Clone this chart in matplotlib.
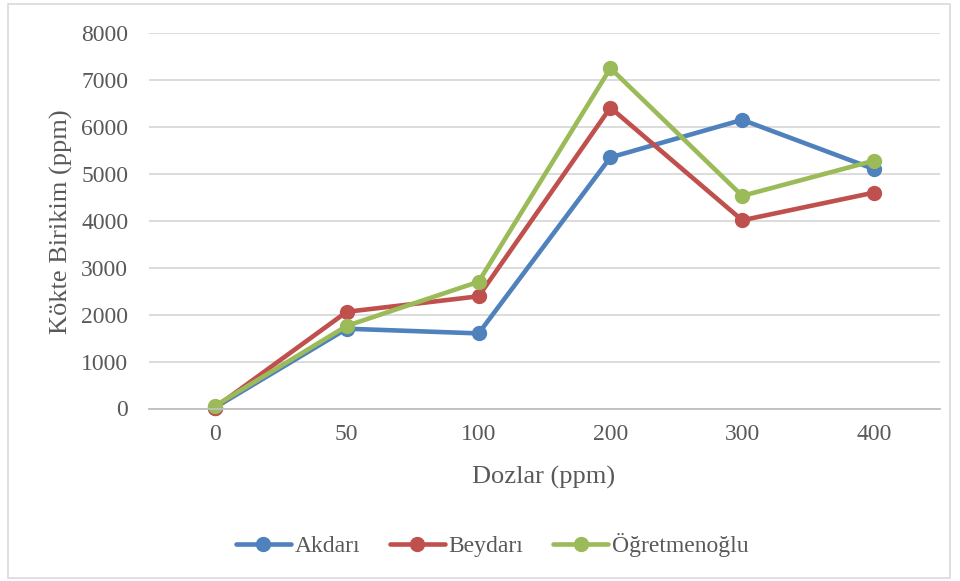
import numpy as np
import matplotlib.pyplot as plt
from matplotlib.patches import Rectangle

plt.rcParams['font.family'] = ['Liberation Serif', 'DejaVu Serif']

dozlar = ['0', '50', '100', '200', '300', '400']
akdari = [20, 1700, 1600, 5350, 6150, 5100]
beydari = [20, 2060, 2390, 6410, 4010, 4600]
ogretmenoglu = [55, 1760, 2700, 7250, 4530, 5280]

series = [('Akdarı', akdari, '#4F81BD'),
          ('Beydarı', beydari, '#C0504D'),
          ('Öğretmenoğlu', ogretmenoglu, '#9BBB59')]

text_col = '#595959'

fig = plt.figure(figsize=(9.6, 5.81), dpi=100)
ax = fig.add_axes([149/960, 1 - 408.5/581, (940 - 149)/960, (408.5 - 33)/581])

x = np.arange(len(dozlar))
for name, vals, col in series:
    ax.plot(x, vals, color=col, lw=3.3, marker='o', markersize=10,
            label=name, solid_capstyle='round', clip_on=False)

ax.set_xlim(-0.5, len(dozlar) - 0.5)
ax.set_ylim(0, 8000)
ax.set_yticks(np.arange(0, 8001, 1000))
ax.set_xticks(x)
ax.set_xticklabels(dozlar)
ax.grid(axis='y', color='#D9D9D9', lw=1.3)
ax.set_axisbelow(True)
for s in ['top', 'right', 'left']:
    ax.spines[s].set_visible(False)
ax.spines['bottom'].set_color('#BFBFBF')
ax.spines['bottom'].set_linewidth(1.3)
ax.tick_params(length=0, labelsize=17, colors=text_col)
ax.tick_params(axis='x', pad=11)
ax.tick_params(axis='y', pad=15)

ax.set_xlabel('Dozlar (ppm)', fontsize=19, color=text_col)
ax.set_ylabel('Kökte Birikim (ppm)', fontsize=19, color=text_col)
ax.xaxis.set_label_coords((544 - 149)/791, -(466 - 408.5)/375.5)
ax.yaxis.set_label_coords(-(149 - 73)/791, (408.5 - 222)/375.5)

fig.legend(loc='center', bbox_to_anchor=(492/960, 1 - 545/581), ncol=3,
           frameon=False, fontsize=17, labelcolor=text_col,
           handlelength=2.35, handletextpad=0.15, columnspacing=1.25)

# outer chart border
fig.patches.append(Rectangle((8/960, 3/581), 942/960, 574/581,
                             transform=fig.transFigure, fill=False,
                             edgecolor='#D9D9D9', lw=1.2))

fig.savefig('out.png', dpi=100)
